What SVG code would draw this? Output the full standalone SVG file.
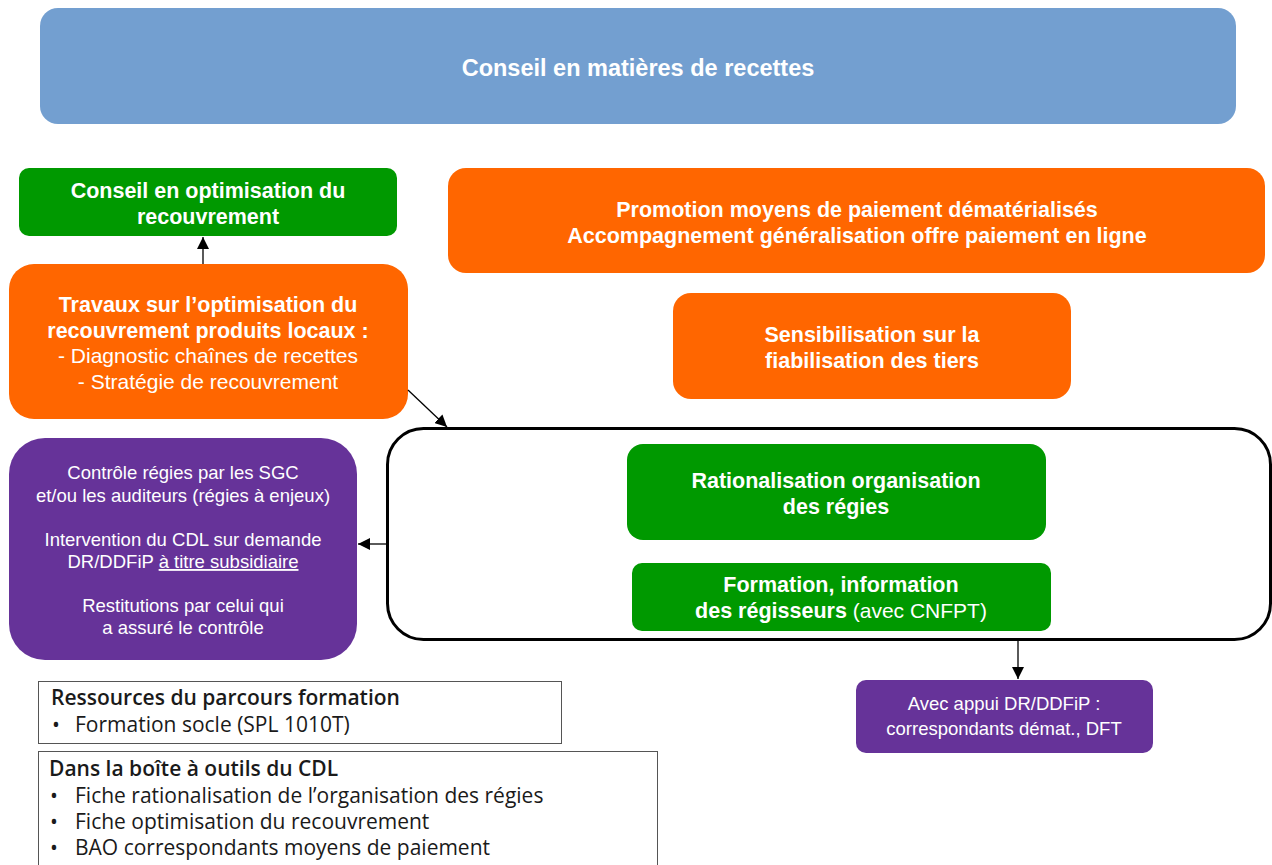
<svg xmlns="http://www.w3.org/2000/svg" width="1272" height="865" viewBox="0 0 1272 865">
<defs>
<style>
.t{font-family:"Liberation Sans",Arial,sans-serif;fill:#fff;text-anchor:middle}
.b{font-weight:bold;font-size:21.5px}
.r{font-size:21px}
.s{font-size:18.5px}
.o{fill:#ff6600}
.g{fill:#009900}
.p{fill:#663399}
.k{font-family:"Open Sans",sans-serif;fill:#1a1a1a;font-size:21px}
.kb{font-weight:600;font-size:21px}
.c{stroke:#000;stroke-width:1.3;fill:none}
</style>
<marker id="ah" viewBox="0 0 10 10" refX="10" refY="5" markerWidth="12" markerHeight="12" markerUnits="userSpaceOnUse" orient="auto"><path d="M0,0 L10,5 L0,10 z" fill="#000"/></marker>
</defs>
<rect width="1272" height="865" fill="#fff"/>
<g id="n-conseil-recettes">
<rect x="40" y="8" width="1196" height="116" rx="18" fill="#739fd0"/>
<text class="t b" x="638" y="76" style="font-size:23.5px">Conseil en matières de recettes</text>
</g>
<g id="n-conseil-optim">
<rect class="g" x="19" y="168" width="378" height="68" rx="10"/>
<text class="t b" x="208" y="198">Conseil en optimisation du</text>
<text class="t b" x="208" y="224">recouvrement</text>
</g>
<g id="n-travaux">
<rect class="o" x="9" y="264" width="399" height="155" rx="25"/>
<text class="t b" x="208" y="312">Travaux sur l’optimisation du</text>
<text class="t b" x="208" y="338">recouvrement produits locaux :</text>
<text class="t r" x="208" y="363">- Diagnostic chaînes de recettes</text>
<text class="t r" x="208" y="389">- Stratégie de recouvrement</text>
</g>
<g id="n-promotion">
<rect class="o" x="448" y="168" width="817" height="105" rx="18"/>
<text class="t b" x="857" y="217">Promotion moyens de paiement dématérialisés</text>
<text class="t b" x="857" y="243">Accompagnement généralisation offre paiement en ligne</text>
</g>
<g id="n-sensibilisation">
<rect class="o" x="673" y="293" width="398" height="106" rx="18"/>
<text class="t b" x="872" y="342">Sensibilisation sur la</text>
<text class="t b" x="872" y="368">fiabilisation des tiers</text>
</g>
<g id="n-cadre">
<rect x="387.5" y="428.5" width="883" height="211" rx="36" fill="#fff" stroke="#000" stroke-width="3"/>
</g>
<g id="n-rationalisation">
<rect class="g" x="627" y="444" width="419" height="96" rx="16"/>
<text class="t b" x="836" y="488">Rationalisation organisation</text>
<text class="t b" x="836" y="514">des régies</text>
</g>
<g id="n-formation">
<rect class="g" x="632" y="563" width="419" height="68" rx="10"/>
<text class="t b" x="841" y="592">Formation, information</text>
<text class="t r" x="841" y="618"><tspan font-weight="bold" font-size="21.5px">des régisseurs</tspan> (avec CNFPT)</text>
</g>
<g id="n-controle">
<rect class="p" x="9" y="438" width="348" height="222" rx="36"/>
<text class="t s" x="183" y="479">Contrôle régies par les SGC</text>
<text class="t s" x="183" y="502">et/ou les auditeurs (régies à enjeux)</text>
<text class="t s" x="183" y="546">Intervention du CDL sur demande</text>
<text class="t s" x="183" y="568">DR/DDFiP <tspan text-decoration="underline">à titre subsidiaire</tspan></text>
<text class="t s" x="183" y="612">Restitutions par celui qui</text>
<text class="t s" x="183" y="634">a assuré le contrôle</text>
</g>
<g id="n-appui">
<rect class="p" x="856" y="680" width="297" height="73" rx="10"/>
<text class="t s" x="1004" y="710">Avec appui DR/DDFiP :</text>
<text class="t s" x="1004" y="735">correspondants démat., DFT</text>
</g>
<g id="n-ressources">
<rect x="38.5" y="681.5" width="523" height="62" fill="#fff" stroke="#555" stroke-width="1"/>
<text class="k kb" x="51" y="705">Ressources du parcours formation</text>
<text class="k" x="52" y="732"><tspan>•</tspan><tspan x="75">Formation socle (SPL 1010T)</tspan></text>
</g>
<g id="n-boite">
<rect x="38.5" y="751.5" width="619" height="120" fill="#fff" stroke="#555" stroke-width="1"/>
<text class="k kb" x="49" y="776">Dans la boîte à outils du CDL</text>
<text class="k" x="50" y="803"><tspan>•</tspan><tspan x="75">Fiche rationalisation de l’organisation des régies</tspan></text>
<text class="k" x="50" y="829"><tspan>•</tspan><tspan x="75">Fiche optimisation du recouvrement</tspan></text>
<text class="k" x="50" y="855"><tspan>•</tspan><tspan x="75">BAO correspondants moyens de paiement</tspan></text>
</g>
<g id="connectors">
<line class="c" x1="203" y1="264" x2="203" y2="237" marker-end="url(#ah)"/>
<line class="c" x1="408" y1="390" x2="447" y2="427" marker-end="url(#ah)"/>
<line class="c" x1="386" y1="544" x2="358" y2="544" marker-end="url(#ah)"/>
<line class="c" x1="1018" y1="641" x2="1018" y2="679" marker-end="url(#ah)"/>
</g>
</svg>
